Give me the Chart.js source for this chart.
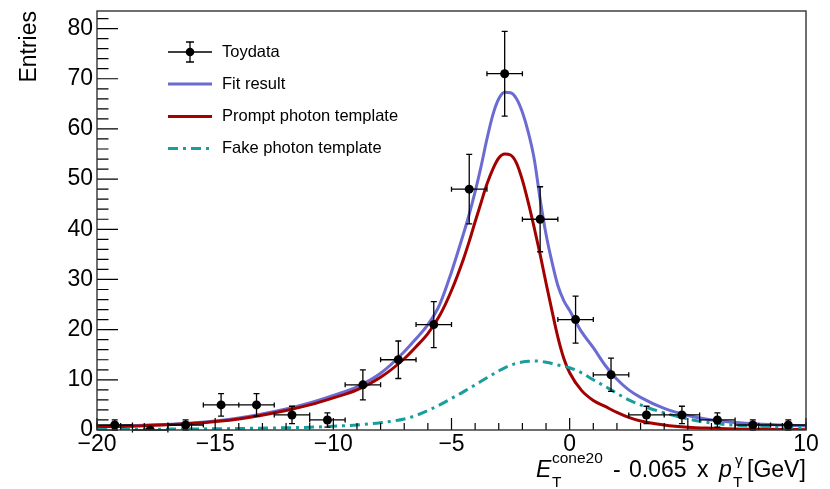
<!DOCTYPE html>
<html>
<head>
<meta charset="utf-8">
<script src="https://cdn.jsdelivr.net/npm/chart.js@4.4.0/dist/chart.umd.min.js"></script>
<style>
  html, body { margin: 0; padding: 0; background: #fff; }
</style>
</head>
<body>
<canvas id="myChart" width="830" height="489"></canvas>
<script>
// toy data (bin centres, entries, stat. errors)
const binCenters = [-19.25, -17.75, -16.25, -14.75, -13.25, -11.75, -10.25, -8.75, -7.25, -5.75,
                    -4.25, -2.75, -1.25, 0.25, 1.75, 3.25, 4.75, 6.25, 7.75, 9.25];
const entries = [1, 0, 1, 5, 5, 3, 2, 9, 14, 21, 48, 71, 42, 22, 11, 3, 3, 2, 1, 1];
const entryErrors = [1, 0, 1, 2.24, 2.24, 1.73, 1.41, 3, 3.74, 4.58, 6.93, 8.43, 6.48, 4.69, 3.32,
                     1.73, 1.73, 1.41, 1, 1];
const halfBin = 0.75;

// curves
const curveX = [-20, -18, -16, -14, -12, -11, -10, -9, -8, -7, -6.5, -6, -5.5, -5, -4.5,
                -4.25, -4, -3.75, -3.5, -3.25, -3, -2.75, -2.5, -2.25, -2, -1.75, -1.5, -1.25, -1, -0.75,
                -0.5, -0.25, 0, 0.5, 1, 1.5, 2, 2.5, 3, 4, 5, 6, 7, 8, 9, 10];
const fitResult = [0.65, 0.95, 1.4, 2.4, 4.2, 5.4, 6.9, 8.6, 11.3, 15.6, 18.2, 21.0, 25.0, 31.5, 39.0,
                   43.0, 47.5, 52.5, 58.0, 62.8, 66.0, 67.3, 67.2, 66.0, 63.3, 59.3, 54.0, 46.0, 39.0, 33.5,
                   28.8, 25.8, 23.8, 19.6, 16.4, 12.9, 10.1, 8.0, 6.5, 4.3, 2.9, 2.0, 1.5, 1.2, 1.0, 0.8];
const promptTemplate = [0.6, 0.85, 1.3, 2.2, 3.9, 5.0, 6.4, 8.0, 10.5, 14.2, 16.6, 19.2, 22.8, 27.8, 34.0,
                        37.6, 41.5, 45.3, 49.0, 52.0, 54.2, 55.0, 54.8, 53.2, 49.8, 45.3, 40.3, 35.0, 29.3, 23.8,
                        18.5, 14.3, 11.4, 7.9, 5.9, 4.7, 3.5, 2.5, 1.8, 1.0, 0.55, 0.35, 0.22, 0.15, 0.1, 0.07];
const fakeTemplate = [0.1, 0.15, 0.2, 0.3, 0.45, 0.55, 0.75, 1.0, 1.45, 2.2, 2.9, 3.9, 5.0, 6.3, 7.6,
                      8.3, 9.0, 9.7, 10.4, 11.1, 11.8, 12.4, 12.9, 13.3, 13.55, 13.7, 13.75, 13.7, 13.5, 13.25,
                      12.95, 12.7, 12.4, 11.4, 10.0, 8.7, 7.3, 6.0, 5.0, 3.4, 2.2, 1.4, 0.95, 0.75, 0.6, 0.5];

const xTicks = [-20, -15, -10, -5, 0, 5, 10];
const yTicks = [0, 10, 20, 30, 40, 50, 60, 70, 80];

const FONT = '"Liberation Sans", Arial, Helvetica, sans-serif';

function toPoints(xs, ys) {
    return xs.map((x, i) => ({ x: x, y: ys[i] }));
}

function minus(v) {
    return v < 0 ? '\u2212' + Math.abs(v) : String(v);
}

// no extra padding from the tick labels, the frame is fixed
function noPad(axis) {
    axis.paddingTop = 0;
    axis.paddingBottom = 0;
    axis.paddingLeft = 0;
    axis.paddingRight = 0;
}

// error bars under the markers
const errorBars = {
    id: 'errorBars',
    beforeDatasetDraw(chart, args) {
        if (args.index !== 0) return;
        const ctx = chart.ctx, xs = chart.scales.x, ys = chart.scales.y;
        ctx.save();
        ctx.strokeStyle = '#000';
        ctx.lineWidth = 1.3;
        ctx.beginPath();
        for (let i = 0; i < binCenters.length; i++) {
            const px = xs.getPixelForValue(binCenters[i]);
            const py = ys.getPixelForValue(entries[i]);
            const x1 = xs.getPixelForValue(binCenters[i] - halfBin);
            const x2 = xs.getPixelForValue(binCenters[i] + halfBin);
            ctx.moveTo(x1, py); ctx.lineTo(x2, py);
            ctx.moveTo(x1, py - 2.5); ctx.lineTo(x1, py + 2.5);
            ctx.moveTo(x2, py - 2.5); ctx.lineTo(x2, py + 2.5);
            if (entryErrors[i] > 0) {
                const yt = ys.getPixelForValue(entries[i] + entryErrors[i]);
                const yb = ys.getPixelForValue(Math.max(0, entries[i] - entryErrors[i]));
                ctx.moveTo(px, yt); ctx.lineTo(px, yb);
                ctx.moveTo(px - 3, yt); ctx.lineTo(px + 3, yt);
                ctx.moveTo(px - 3, yb); ctx.lineTo(px + 3, yb);
            }
        }
        ctx.stroke();
        ctx.restore();
    }
};

// ROOT style frame with ticks pointing inwards
const rootFrame = {
    id: 'rootFrame',
    afterDatasetsDraw(chart) {
        const ctx = chart.ctx, a = chart.chartArea;
        const xs = chart.scales.x, ys = chart.scales.y;
        ctx.save();
        ctx.strokeStyle = '#000';
        ctx.lineWidth = 1.2;
        ctx.beginPath();
        for (let v = 0; v <= 82; v += 2) {
            const py = ys.getPixelForValue(v);
            const len = v % 10 === 0 ? 21 : 11.5;
            ctx.moveTo(a.left, py); ctx.lineTo(a.left + len, py);
        }
        for (let v = -20; v <= 10; v += 1) {
            const px = xs.getPixelForValue(v);
            const len = v % 5 === 0 ? 12 : 7;
            ctx.moveTo(px, a.bottom); ctx.lineTo(px, a.bottom - len);
        }
        ctx.stroke();
        ctx.strokeStyle = '#333';
        ctx.lineWidth = 1.4;
        ctx.strokeRect(a.left, a.top, a.right - a.left, a.bottom - a.top);
        ctx.restore();
    }
};

// legend box + x axis title with sub/superscripts
const extras = {
    id: 'extras',
    afterDraw(chart) {
        const ctx = chart.ctx;
        const ds = chart.data.datasets;
        const rows = [52, 84, 116.5, 148.5];
        ctx.save();
        for (let i = 0; i < ds.length; i++) {
            const y = rows[i];
            if (i === 0) {
                ctx.strokeStyle = '#000';
                ctx.lineWidth = 1.3;
                ctx.beginPath();
                ctx.moveTo(168, y); ctx.lineTo(212, y);
                ctx.moveTo(190, y - 10); ctx.lineTo(190, y + 10);
                ctx.moveTo(186, y - 10); ctx.lineTo(194, y - 10);
                ctx.moveTo(186, y + 10); ctx.lineTo(194, y + 10);
                ctx.stroke();
                ctx.fillStyle = '#000';
                ctx.beginPath();
                ctx.arc(190, y, 4.3, 0, Math.PI * 2);
                ctx.fill();
            } else {
                ctx.strokeStyle = ds[i].borderColor;
                ctx.lineWidth = ds[i].borderWidth;
                ctx.setLineDash(ds[i].borderDash || []);
                ctx.beginPath();
                ctx.moveTo(168, y); ctx.lineTo(212, y);
                ctx.stroke();
                ctx.setLineDash([]);
            }
            ctx.fillStyle = '#000';
            ctx.font = '16.5px ' + FONT;
            ctx.textBaseline = 'middle';
            ctx.textAlign = 'left';
            ctx.fillText(ds[i].label, 222, y);
        }

        ctx.fillStyle = '#000';
        ctx.textBaseline = 'alphabetic';
        const big = '23px ' + FONT, small = '15.5px ' + FONT;
        ctx.font = 'italic ' + big; ctx.fillText('E', 536, 477);
        ctx.font = small; ctx.fillText('cone20', 552, 463); ctx.fillText('T', 552, 487);
        ctx.font = big;
        ctx.fillText('-', 613, 477);
        ctx.fillText('0.065', 629, 477);
        ctx.fillText('x', 697, 477);
        ctx.font = 'italic ' + big; ctx.fillText('p', 719, 477);
        ctx.font = small; ctx.fillText('\u03b3', 735, 465); ctx.fillText('T', 733, 487);
        ctx.font = big; ctx.fillText('[GeV]', 747, 477);
        ctx.restore();
    }
};

const ctx = document.getElementById('myChart').getContext('2d');
const myChart = new Chart(ctx, {
    type: 'scatter',
    data: {
        datasets: [{
            label: 'Toydata',
            data: toPoints(binCenters, entries),
            pointRadius: 4.5,
            pointBackgroundColor: '#000',
            pointBorderWidth: 0,
            showLine: false,
            order: 0
        }, {
            label: 'Fit result',
            data: toPoints(curveX, fitResult),
            showLine: true,
            borderColor: '#6b6bd2',
            borderWidth: 3,
            pointRadius: 0,
            cubicInterpolationMode: 'monotone',
            order: 3
        }, {
            label: 'Prompt photon template',
            data: toPoints(curveX, promptTemplate),
            showLine: true,
            borderColor: '#a30000',
            borderWidth: 3,
            pointRadius: 0,
            cubicInterpolationMode: 'monotone',
            order: 2
        }, {
            label: 'Fake photon template',
            data: toPoints(curveX, fakeTemplate),
            showLine: true,
            borderColor: '#1a9e9c',
            borderWidth: 3,
            borderDash: [10, 5, 3, 5],
            pointRadius: 0,
            cubicInterpolationMode: 'monotone',
            order: 1
        }]
    },
    options: {
        responsive: false,
        animation: false,
        layout: { padding: { left: 0, right: 24, top: 11, bottom: 0 } },
        plugins: {
            legend: { display: false },
            tooltip: { enabled: false }
        },
        scales: {
            x: {
                type: 'linear',
                min: -20,
                max: 10,
                afterBuildTicks: (axis) => { axis.ticks = xTicks.map(v => ({ value: v })); },
                afterFit: (axis) => { axis.height = 59; noPad(axis); },
                grid: { display: false, drawTicks: false },
                border: { display: false },
                ticks: {
                    autoSkip: false,
                    maxRotation: 0,
                    padding: 3.5,
                    color: '#000',
                    font: { family: FONT, size: 23, lineHeight: 1 },
                    callback: (v) => minus(v)
                }
            },
            y: {
                min: 0,
                max: 83.5,
                afterBuildTicks: (axis) => { axis.ticks = yTicks.map(v => ({ value: v })); },
                afterFit: (axis) => { axis.width = 97; noPad(axis); },
                grid: { display: false, drawTicks: false },
                border: { display: false },
                ticks: {
                    padding: 4,
                    color: '#000',
                    font: { family: FONT, size: 23 },
                    callback: (v) => minus(v)
                },
                title: {
                    display: true,
                    text: 'Entries',
                    align: 'end',
                    color: '#000',
                    font: { family: FONT, size: 23 },
                    padding: { top: 16, bottom: 0 }
                }
            }
        }
    },
    plugins: [errorBars, rootFrame, extras]
});
</script>
</body>
</html>
